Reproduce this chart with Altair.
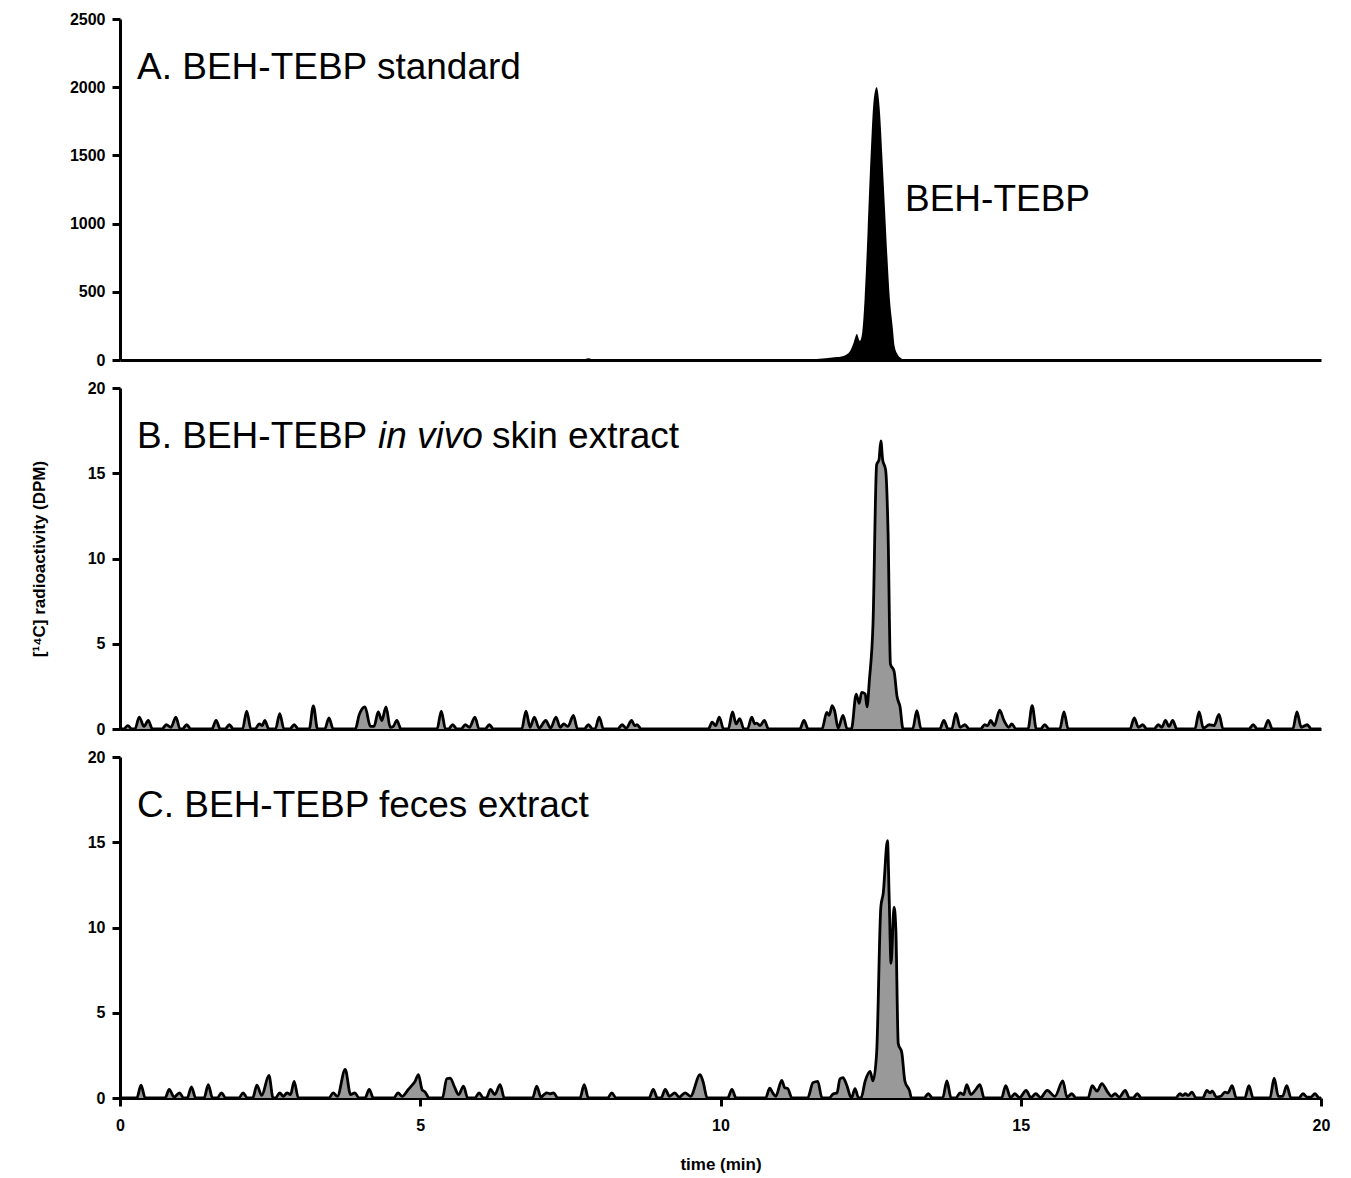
import altair as alt
import pandas as pd

# ---------------- data ----------------
x_ticks = [0, 5, 10, 15, 20]
a_ticks = [0, 500, 1000, 1500, 2000, 2500]
bc_ticks = [0, 5, 10, 15, 20]

panel_a_title = ["A. BEH-TEBP standard"]
panel_b_title = ["B. BEH-TEBP", "in vivo", "skin extract"]
panel_c_title = ["C. BEH-TEBP feces extract"]
peak_label = ["BEH-TEBP"]
y_title = "[¹⁴C] radioactivity (DPM)"
x_title = "time (min)"

# Panel A: standard (DPM)
a_time = [0, 7.7, 7.8, 7.9, 11.3, 11.6, 11.9, 12.05, 12.15, 12.22, 12.27, 12.32,
          12.36, 12.40, 12.45, 12.50, 12.55, 12.60, 12.65, 12.70, 12.74, 12.78,
          12.82, 12.87, 12.90, 12.95, 13.0, 13.1, 20]
a_value = [0, 0, 12, 0, 0, 8, 20, 30, 60, 130, 190, 140,
           200, 450, 950, 1500, 1900, 2000, 1850, 1450, 1100, 750,
           450, 230, 100, 40, 15, 0, 0]

# Panel B: in vivo skin extract (DPM)
b_time = [0,
          0.06, 0.13, 0.2,
          0.25, 0.32, 0.4, 0.47, 0.54,
          0.7, 0.77, 0.85, 0.93, 1.0,
          1.04, 1.11, 1.18,
          1.53, 1.6, 1.67,
          1.75, 1.82, 1.89,
          2.04, 2.11, 2.18,
          2.25, 2.32, 2.37, 2.41, 2.48,
          2.59, 2.66, 2.73,
          2.83, 2.9, 2.97,
          3.15, 3.22, 3.29,
          3.41, 3.48, 3.55,
          3.92, 3.98, 4.08, 4.17, 4.23, 4.3, 4.36, 4.43, 4.5, 4.55, 4.61, 4.68,
          5.28, 5.35, 5.42,
          5.47, 5.54, 5.61,
          5.68, 5.75, 5.82, 5.91, 5.98,
          6.08, 6.15, 6.22,
          6.69, 6.76, 6.83, 6.9, 6.98, 7.09, 7.17, 7.26, 7.33, 7.39, 7.46, 7.55, 7.62,
          7.73, 7.8, 7.87,
          7.91, 7.98, 8.05,
          8.29, 8.36, 8.43, 8.52, 8.57, 8.61, 8.68,
          9.8, 9.86, 9.92, 9.98, 10.05,
          10.13, 10.2, 10.26, 10.32, 10.39,
          10.45, 10.52, 10.57, 10.6, 10.66, 10.73, 10.8,
          11.32, 11.39, 11.46,
          11.69, 11.77, 11.81, 11.86, 11.9, 11.96, 12.04, 12.11,
          12.18, 12.26, 12.31, 12.35, 12.41, 12.44, 12.48, 12.54, 12.6, 12.64, 12.67,
          12.7, 12.75, 12.79, 12.83, 12.89, 12.94, 12.99, 13.04,
          13.2, 13.27, 13.34,
          13.65, 13.72, 13.79,
          13.85, 13.92, 13.99, 14.07, 14.14,
          14.33, 14.4, 14.45, 14.5, 14.56, 14.65, 14.72, 14.8, 14.85, 14.92,
          15.12, 15.19, 15.26,
          15.33, 15.4, 15.47,
          15.65, 15.72, 15.79,
          16.82, 16.89, 16.96, 17.03, 17.1,
          17.22, 17.29, 17.35, 17.41, 17.47, 17.53, 17.6,
          17.9, 17.97, 18.04, 18.14, 18.22, 18.3, 18.37,
          18.8, 18.87, 18.94,
          19.05, 19.12, 19.19,
          19.53, 19.6, 19.67, 19.77, 19.84,
          20]
b_value = [0,
           0, 0.2, 0,
           0, 0.7, 0.15, 0.5, 0,
           0, 0.25, 0.1, 0.7, 0,
           0, 0.25, 0,
           0, 0.5, 0,
           0, 0.25, 0,
           0, 1.05, 0,
           0, 0.3, 0.2, 0.5, 0,
           0, 0.9, 0,
           0, 0.25, 0,
           0, 1.35, 0,
           0, 0.65, 0,
           0, 0.8, 1.3, 0.15, 0.15, 1.0, 0.5, 1.3, 0.1, 0.15, 0.5, 0,
           0, 1.05, 0,
           0, 0.25, 0,
           0, 0.25, 0.1, 0.7, 0,
           0, 0.25, 0,
           0, 1.05, 0.1, 0.7, 0.05, 0.5, 0.05, 0.7, 0.1, 0.3, 0.15, 0.8, 0,
           0, 0.25, 0,
           0, 0.7, 0,
           0, 0.25, 0.05, 0.5, 0.2, 0.25, 0,
           0, 0.4, 0.2, 0.7, 0,
           0, 1.0, 0.3, 0.6, 0,
           0, 0.7, 0.3, 0.35, 0.2, 0.5, 0,
           0, 0.5, 0,
           0, 0.98, 0.8, 1.37, 1.07, 0.05, 0.8, 0,
           0, 2.05, 1.5, 2.15, 2.05, 1.3, 2.9, 6.2, 15.5, 15.8, 16.9,
           15.8, 15.2, 11.6, 3.8, 3.4, 1.9, 1.3, 0,
           0, 1.07, 0,
           0, 0.5, 0,
           0, 0.92, 0.1, 0.25, 0,
           0, 0.25, 0.2, 0.5, 0.2, 1.1, 0.5, 0.1, 0.3, 0,
           0, 1.37, 0,
           0, 0.25, 0,
           0, 1.0, 0,
           0, 0.65, 0.1, 0.25, 0,
           0, 0.25, 0.1, 0.5, 0.15, 0.5, 0,
           0, 1.0, 0.05, 0.25, 0.2, 0.85, 0,
           0, 0.25, 0,
           0, 0.5, 0,
           0, 1.0, 0.1, 0.25, 0,
           0]

# Panel C: feces extract (DPM)
c_time = [0,
          0.28, 0.35, 0.42,
          0.75, 0.82, 0.9, 0.99, 1.06,
          1.12, 1.19, 1.26,
          1.4, 1.47, 1.54,
          1.62, 1.69, 1.76,
          1.98, 2.05, 2.12,
          2.21, 2.28, 2.36, 2.48, 2.55,
          2.59, 2.66, 2.72, 2.78, 2.84, 2.9, 2.97,
          3.48, 3.55, 3.62, 3.75, 3.84, 3.91, 3.98,
          4.08, 4.15, 4.22,
          4.56, 4.63, 4.7, 4.8, 4.85, 4.91, 4.97, 5.03, 5.08, 5.15,
          5.37, 5.44, 5.5, 5.57, 5.64, 5.72, 5.79,
          5.91, 5.98, 6.05,
          6.1, 6.17, 6.24, 6.33, 6.4,
          6.87, 6.94, 7.01, 7.06, 7.11, 7.16, 7.22, 7.29,
          7.66, 7.73, 7.8,
          8.12, 8.19, 8.26,
          8.81, 8.88, 8.95,
          9.01, 9.08, 9.15, 9.24, 9.31, 9.41, 9.5, 9.66, 9.71, 9.78,
          10.12, 10.19, 10.26,
          10.75, 10.82, 10.87, 10.92, 11.02, 11.07, 11.12, 11.19,
          11.45, 11.54, 11.62, 11.69,
          11.81, 11.88, 11.94, 11.99, 12.04, 12.1, 12.18, 12.24, 12.3,
          12.34, 12.41, 12.49, 12.54, 12.6, 12.67, 12.71, 12.78, 12.81, 12.84,
          12.89, 12.92, 12.96, 13.02, 13.07, 13.15, 13.18,
          13.39, 13.46, 13.53,
          13.7, 13.77, 13.84,
          13.92, 13.99, 14.05, 14.1, 14.17, 14.24, 14.32, 14.39,
          14.68, 14.75, 14.83, 14.9, 14.98, 15.09, 15.17, 15.25, 15.33, 15.44,
          15.57, 15.7, 15.77, 15.85, 15.92,
          16.12, 16.19, 16.27, 16.35, 16.45, 16.51, 16.57, 16.64, 16.74, 16.81,
          16.87, 16.94, 17.01,
          17.58, 17.65, 17.7, 17.74, 17.79, 17.85, 17.92,
          18.03, 18.1, 18.15, 18.19, 18.26, 18.33, 18.4, 18.45, 18.52, 18.59,
          18.73, 18.8, 18.87,
          19.15, 19.22, 19.29, 19.36, 19.43, 19.5,
          19.63, 19.7, 19.77, 19.83, 19.9, 19.97,
          20]
c_value = [0,
           0, 0.75, 0,
           0, 0.5, 0.05, 0.3, 0,
           0, 0.65, 0,
           0, 0.78, 0,
           0, 0.3, 0,
           0, 0.3, 0,
           0, 0.75, 0.15, 1.33, 0,
           0, 0.3, 0.1, 0.3, 0.2, 0.98, 0,
           0, 0.3, 0.1, 1.68, 0.2, 0.3, 0,
           0, 0.5, 0,
           0, 0.3, 0.1, 0.5, 0.7, 0.95, 1.37, 0.5, 0.35, 0,
           0, 1.13, 1.17, 0.65, 0.2, 0.7, 0,
           0, 0.3, 0,
           0, 0.5, 0.2, 0.78, 0,
           0, 0.7, 0.05, 0.2, 0.3, 0.25, 0.3, 0,
           0, 0.78, 0,
           0, 0.3, 0,
           0, 0.5, 0,
           0, 0.5, 0.1, 0.3, 0.05, 0.3, 0.1, 1.37, 0.95, 0,
           0, 0.5, 0,
           0, 0.58, 0.3, 0.1, 1.03, 0.6, 0.55, 0,
           0, 0.9, 0.98, 0,
           0, 0.25, 0.3, 1.13, 1.2, 0.78, 0, 0.55, 0,
           0, 1.0, 1.56, 1.0, 2.64, 11.2, 12.0, 15.1, 11.6, 7.9,
           11.2, 9.9, 3.2, 2.64, 1.0, 0.4, 0,
           0, 0.25, 0,
           0, 1.0, 0,
           0, 0.3, 0.2, 0.78, 0.2, 0.45, 0.78, 0,
           0, 0.72, 0.02, 0.25, 0.02, 0.45, 0.02, 0.25, 0.02, 0.45,
           0.1, 1.0, 0.05, 0.25, 0,
           0, 0.72, 0.4, 0.84, 0.33, 0.1, 0.25, 0.05, 0.45, 0,
           0, 0.25, 0,
           0, 0.25, 0.15, 0.25, 0.15, 0.35, 0,
           0, 0.45, 0.3, 0.4, 0.05, 0.1, 0.35, 0.3, 0.72, 0,
           0, 0.72, 0,
           0, 1.17, 0.1, 0.1, 0.72, 0,
           0, 0.25, 0.05, 0.05, 0.25, 0,
           0]

assert len(a_time) == len(a_value)
assert len(b_time) == len(b_value)
assert len(c_time) == len(c_value)

# ---------------- chart ----------------
W, H = 1201, 341
FONT = "Liberation Sans"
TITLE_SIZE = 37


def label_layer(text, px, py, size=TITLE_SIZE, style="normal"):
    return alt.Chart(pd.DataFrame({"label": [text]})).mark_text(
        align="left", baseline="alphabetic", font=FONT, fontSize=size,
        fontStyle=style, color="black"
    ).encode(x=alt.value(px), y=alt.value(py), text="label:N")


def area_layer(times, values, ymax, yticks, fill, outlined, show_x, ytitle=None):
    df = pd.DataFrame({"time": times, "dpm": values})
    if outlined:
        base = alt.Chart(df).mark_area(
            interpolate="monotone", color=fill, opacity=1,
            line={"color": "black", "strokeWidth": 2.8}
        )
    else:
        base = alt.Chart(df).mark_area(interpolate="monotone", color=fill, opacity=1)
    if show_x:
        xaxis = alt.Axis(values=x_ticks, title=x_title, labelPadding=11,
                         titlePadding=23, labelFlush=False, format="d")
    else:
        xaxis = alt.Axis(labels=False, ticks=False, title=None)
    if ytitle:
        yaxis = alt.Axis(values=yticks, title=ytitle, titlePadding=39, format="d")
    else:
        yaxis = alt.Axis(values=yticks, title=None, format="d")
    return base.encode(
        x=alt.X("time:Q", scale=alt.Scale(domain=[0, 20], nice=False, zero=False), axis=xaxis),
        y=alt.Y("dpm:Q", scale=alt.Scale(domain=[0, ymax], nice=False), axis=yaxis),
    )


panel_a = alt.layer(
    area_layer(a_time, a_value, 2500, a_ticks, "black", False, False),
    label_layer(panel_a_title[0], 17, 60),
    label_layer(peak_label[0], 785, 192),
).properties(width=W, height=H)

panel_b = alt.layer(
    area_layer(b_time, b_value, 20, bc_ticks, "#999999", True, False, y_title),
    label_layer(panel_b_title[0], 17, 60),
    label_layer(panel_b_title[1], 258, 60, style="italic"),
    label_layer(panel_b_title[2], 372, 60),
).properties(width=W, height=H)

panel_c = alt.layer(
    area_layer(c_time, c_value, 20, bc_ticks, "#999999", True, True),
    label_layer(panel_c_title[0], 17, 60),
).properties(width=W, height=H)

chart = alt.vconcat(panel_a, panel_b, panel_c, spacing=12).properties(
    padding={"left": 22, "top": 3, "right": 10, "bottom": 5}
).configure_axis(
    domainColor="black", domainWidth=3, tickColor="black", tickWidth=3,
    tickSize=8, labelFont=FONT, labelFontSize=16, labelFontWeight="bold",
    labelColor="black", labelPadding=7, titleFont=FONT, titleFontSize=17,
    titleFontWeight="bold", titleColor="black", grid=False,
).configure_view(stroke=None)

chart.save("out.html", embed_options={"renderer": "svg", "actions": False})
